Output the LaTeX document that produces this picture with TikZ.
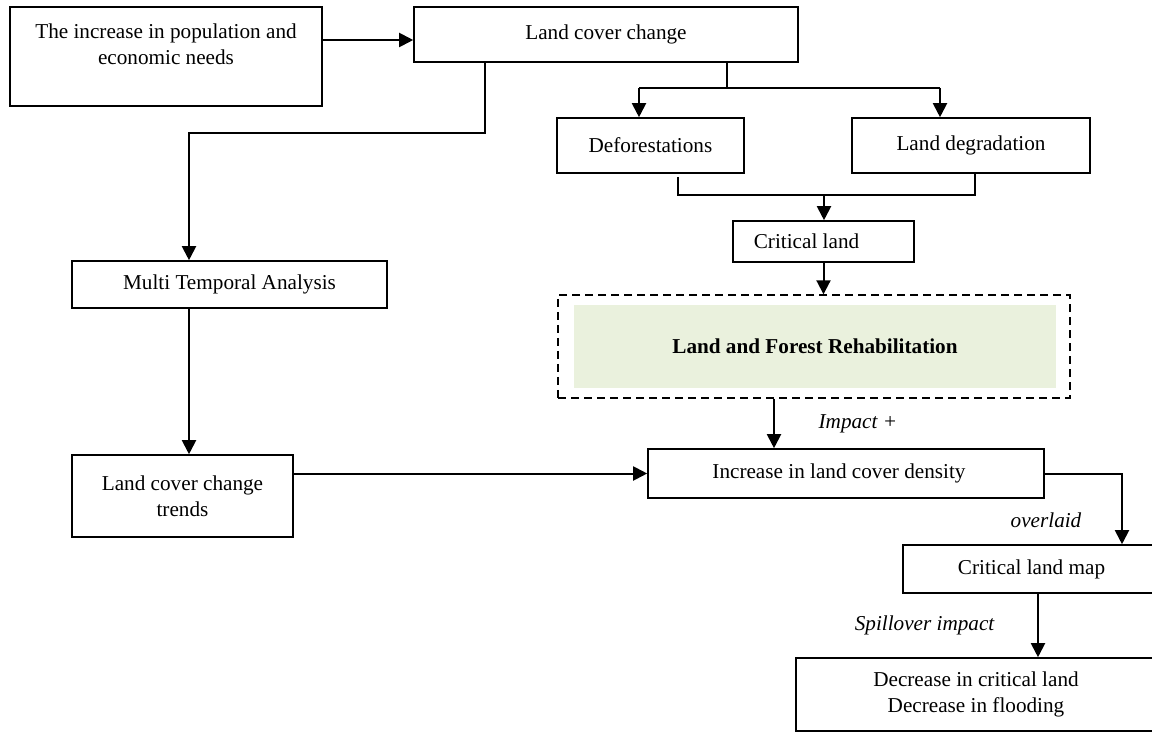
\documentclass[tikz,border=0pt]{standalone}
\usepackage{fontspec}
\setmainfont{Liberation Serif}
\usetikzlibrary{arrows.meta}
\definecolor{rehabgreen}{HTML}{EAF1DD}

\begin{document}
\begin{tikzpicture}
        [
        x=0.5pt, y=-0.5pt,
        align=center,
        font=\fontsize{10.6}{13}\selectfont,
        box/.style={rectangle, fill=white, draw=black, line width=0.8pt, inner sep=0pt},
        dashbox/.style={rectangle, draw=black, dash pattern=on 4pt off 2.5pt, line width=0.7pt},
        fillbox/.style={rectangle, fill=rehabgreen, draw=none},
        arrow/.style={-{Triangle[length=7pt,width=7pt]}, line width=1pt},
        link/.style={line width=0.75pt},
        tag/.style={font=\fontsize{10.6}{13}\selectfont\itshape},
        ]
                \useasboundingbox (0,0) rectangle (1152,733);

                % boxes
                \node[box, minimum width=156pt, minimum height=49.5pt] (pop) at (166,56.5) {The increase in population and\\economic needs\\[-5pt] \strut};
                \node[box, minimum width=192pt, minimum height=27.5pt] (lcc) at (606,34.5) {Land cover change};
                \node[box, minimum width=93.5pt, minimum height=27.5pt] (defo) at (650.5,145.5) {Deforestations};
                \node[box, minimum width=119pt, minimum height=27.5pt] (ldeg) at (971,145.5) {Land degradation};
                \node[box, minimum width=90.5pt, minimum height=20.5pt] (crit) at (823.5,241.5) {Critical land\hspace*{17pt}};
                \node[box, minimum width=157.5pt, minimum height=23.5pt] (mta) at (229.5,284.5) {Multi Temporal Analysis};
                \node[box, minimum width=110.5pt, minimum height=41pt] (trends) at (182.5,496) {Land cover change\\trends};
                \node[box, minimum width=198pt, minimum height=24.5pt] (incr) at (846,473.5) {Increase in land cover density\hspace*{7pt}};
                \node[box, minimum width=128.5pt, minimum height=24pt] (clmap) at (1031.5,569) {Critical land map};
                \node[box, minimum width=180pt, minimum height=36.5pt] (decr) at (976,694.5) {Decrease in critical land\\Decrease in flooding};

                % rehabilitation block
                \node[dashbox, minimum width=256pt, minimum height=51.5pt] (rehab) at (814,346.5) {};
                \node[fillbox, minimum width=241pt, minimum height=41.5pt] (forest) at (815,346.5) {\textbf{Land and Forest Rehabilitation}};

                % junctions
                \coordinate (bend) at (189,133);
                \coordinate (split) at (727,88);
                \coordinate (merge) at (824,195);

                % drawing code
                \draw[arrow] (pop.east |- 0,40) -- (lcc.west |- 0,40);
                \draw[arrow] (lcc.south -| bend) ++(296,0) |- (bend) -- (mta.north -| bend);
                \draw[link] (lcc.south -| split) -- (split);
                \draw[link] (639,88) -- (940,88);
                \foreach \x/\to in {639/defo,940/ldeg} \draw[arrow] (\x,88) -- (\to.north -| \x,0);
                \draw[link, shorten <=1.5pt] (defo.south -| 678,0) |- (merge) -| (ldeg.south -| 975,0);
                \draw[arrow] (merge) -- (merge |- crit.north);
                \draw[arrow] (crit.south) -- (crit.south |- rehab.north);
                \draw[arrow] (rehab.south -| 774,0) -- (incr.north -| 774,0)
                        node[tag, midway, anchor=west, xshift=18.5pt] (imp) {Impact +};
                \draw[arrow] (mta.south -| bend) -- (trends.north -| bend);
                \draw[arrow] (trends.east |- incr.west) -- (incr.west);
                \draw[arrow] (incr.east) -| (clmap.north -| 1122,0);
                \node[tag] (ovl) at (1046,520) {overlaid};
                \draw[arrow] (clmap.south -| 1038,0) -- (decr.north -| 1038,0)
                        node[tag, midway, anchor=east, xshift=-18pt] (spill) {Spillover impact};
        \end{tikzpicture}
\end{document}
